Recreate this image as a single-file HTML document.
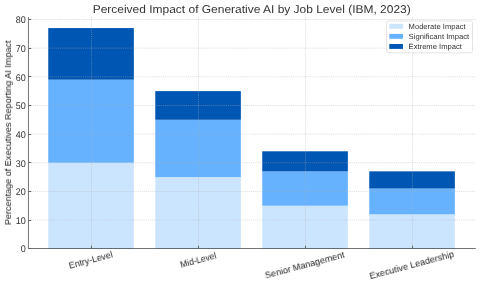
<!DOCTYPE html>
<html><head><meta charset="utf-8"><style>
html,body{margin:0;padding:0;background:#fff;width:480px;height:286px;overflow:hidden}
svg{display:block;font-family:"Liberation Sans", sans-serif}
text{will-change:transform;text-rendering:geometricPrecision}
</style></head><body>
<svg width="480" height="286" viewBox="0 0 480 286">
<rect x="0" y="0" width="480" height="286" fill="#fff"/>
<rect x="48.25" y="162.75" width="85.60" height="85.95" fill="#cce5ff"/>
<rect x="48.25" y="79.66" width="85.60" height="83.09" fill="#66b2ff"/>
<rect x="48.25" y="28.09" width="85.60" height="51.57" fill="#0056b3"/>
<rect x="155.25" y="177.07" width="85.60" height="71.62" fill="#cce5ff"/>
<rect x="155.25" y="119.77" width="85.60" height="57.30" fill="#66b2ff"/>
<rect x="155.25" y="91.12" width="85.60" height="28.65" fill="#0056b3"/>
<rect x="262.25" y="205.72" width="85.60" height="42.97" fill="#cce5ff"/>
<rect x="262.25" y="171.34" width="85.60" height="34.38" fill="#66b2ff"/>
<rect x="262.25" y="151.29" width="85.60" height="20.06" fill="#0056b3"/>
<rect x="369.25" y="214.32" width="85.60" height="34.38" fill="#cce5ff"/>
<rect x="369.25" y="188.53" width="85.60" height="25.79" fill="#66b2ff"/>
<rect x="369.25" y="171.34" width="85.60" height="17.19" fill="#0056b3"/>
<line x1="28.44" y1="220.05" x2="475.8" y2="220.05" stroke="#b0b0b0" stroke-opacity="0.4" stroke-width="1.0" stroke-dasharray="1.15 0.95"/>
<line x1="28.44" y1="191.40" x2="475.8" y2="191.40" stroke="#b0b0b0" stroke-opacity="0.4" stroke-width="1.0" stroke-dasharray="1.15 0.95"/>
<line x1="28.44" y1="162.75" x2="475.8" y2="162.75" stroke="#b0b0b0" stroke-opacity="0.4" stroke-width="1.0" stroke-dasharray="1.15 0.95"/>
<line x1="28.44" y1="134.10" x2="475.8" y2="134.10" stroke="#b0b0b0" stroke-opacity="0.4" stroke-width="1.0" stroke-dasharray="1.15 0.95"/>
<line x1="28.44" y1="105.45" x2="475.8" y2="105.45" stroke="#b0b0b0" stroke-opacity="0.4" stroke-width="1.0" stroke-dasharray="1.15 0.95"/>
<line x1="28.44" y1="76.80" x2="475.8" y2="76.80" stroke="#b0b0b0" stroke-opacity="0.4" stroke-width="1.0" stroke-dasharray="1.15 0.95"/>
<line x1="28.44" y1="48.15" x2="475.8" y2="48.15" stroke="#b0b0b0" stroke-opacity="0.4" stroke-width="1.0" stroke-dasharray="1.15 0.95"/>
<line x1="28.44" y1="19.50" x2="475.8" y2="19.50" stroke="#b0b0b0" stroke-opacity="0.4" stroke-width="1.0" stroke-dasharray="1.15 0.95"/>
<line x1="91.50" y1="17.06" x2="91.50" y2="248.5" stroke="#b0b0b0" stroke-opacity="0.4" stroke-width="1.0" stroke-dasharray="1.15 0.95"/>
<line x1="198.50" y1="17.06" x2="198.50" y2="248.5" stroke="#b0b0b0" stroke-opacity="0.4" stroke-width="1.0" stroke-dasharray="1.15 0.95"/>
<line x1="305.50" y1="17.06" x2="305.50" y2="248.5" stroke="#b0b0b0" stroke-opacity="0.4" stroke-width="1.0" stroke-dasharray="1.15 0.95"/>
<line x1="412.50" y1="17.06" x2="412.50" y2="248.5" stroke="#b0b0b0" stroke-opacity="0.4" stroke-width="1.0" stroke-dasharray="1.15 0.95"/>
<path d="M28.44,17.06 V248.5 H475.8" fill="none" stroke="#000000" stroke-opacity="0.55" stroke-width="1"/>
<line x1="28.44" y1="248.50" x2="31.24" y2="248.50" stroke="#666666" stroke-width="1"/>
<text x="25.8" y="252.45" text-anchor="end" font-size="9.7" fill="#333333" textLength="5.0" lengthAdjust="spacingAndGlyphs">0</text>
<line x1="28.44" y1="220.50" x2="31.24" y2="220.50" stroke="#666666" stroke-width="1"/>
<text x="25.8" y="223.80" text-anchor="end" font-size="9.7" fill="#333333" textLength="10.0" lengthAdjust="spacingAndGlyphs">10</text>
<line x1="28.44" y1="191.50" x2="31.24" y2="191.50" stroke="#666666" stroke-width="1"/>
<text x="25.8" y="195.15" text-anchor="end" font-size="9.7" fill="#333333" textLength="10.0" lengthAdjust="spacingAndGlyphs">20</text>
<line x1="28.44" y1="162.50" x2="31.24" y2="162.50" stroke="#666666" stroke-width="1"/>
<text x="25.8" y="166.50" text-anchor="end" font-size="9.7" fill="#333333" textLength="10.0" lengthAdjust="spacingAndGlyphs">30</text>
<line x1="28.44" y1="134.50" x2="31.24" y2="134.50" stroke="#666666" stroke-width="1"/>
<text x="25.8" y="137.85" text-anchor="end" font-size="9.7" fill="#333333" textLength="10.0" lengthAdjust="spacingAndGlyphs">40</text>
<line x1="28.44" y1="105.50" x2="31.24" y2="105.50" stroke="#666666" stroke-width="1"/>
<text x="25.8" y="109.20" text-anchor="end" font-size="9.7" fill="#333333" textLength="10.0" lengthAdjust="spacingAndGlyphs">50</text>
<line x1="28.44" y1="76.50" x2="31.24" y2="76.50" stroke="#666666" stroke-width="1"/>
<text x="25.8" y="80.55" text-anchor="end" font-size="9.7" fill="#333333" textLength="10.0" lengthAdjust="spacingAndGlyphs">60</text>
<line x1="28.44" y1="48.50" x2="31.24" y2="48.50" stroke="#666666" stroke-width="1"/>
<text x="25.8" y="51.90" text-anchor="end" font-size="9.7" fill="#333333" textLength="10.0" lengthAdjust="spacingAndGlyphs">70</text>
<line x1="28.44" y1="19.50" x2="31.24" y2="19.50" stroke="#666666" stroke-width="1"/>
<text x="25.8" y="23.25" text-anchor="end" font-size="9.7" fill="#333333" textLength="10.0" lengthAdjust="spacingAndGlyphs">80</text>
<line x1="91.50" y1="248.5" x2="91.50" y2="245.70" stroke="#666666" stroke-width="1"/>
<line x1="198.50" y1="248.5" x2="198.50" y2="245.70" stroke="#666666" stroke-width="1"/>
<line x1="305.50" y1="248.5" x2="305.50" y2="245.70" stroke="#666666" stroke-width="1"/>
<line x1="412.50" y1="248.5" x2="412.50" y2="245.70" stroke="#666666" stroke-width="1"/>
<text transform="translate(91.55,263) rotate(-15)" text-anchor="middle" font-size="9.2" fill="#1a1a1a" textLength="45" lengthAdjust="spacingAndGlyphs">Entry-Level</text>
<text transform="translate(199.05,263) rotate(-15)" text-anchor="middle" font-size="9.2" fill="#1a1a1a" textLength="37" lengthAdjust="spacingAndGlyphs">Mid-Level</text>
<text transform="translate(305.55,268) rotate(-15)" text-anchor="middle" font-size="9.2" fill="#1a1a1a" textLength="82" lengthAdjust="spacingAndGlyphs">Senior Management</text>
<text transform="translate(412.55,268) rotate(-15)" text-anchor="middle" font-size="9.2" fill="#1a1a1a" textLength="87" lengthAdjust="spacingAndGlyphs">Executive Leadership</text>
<text x="251.7" y="13.0" text-anchor="middle" font-size="11.3" fill="#333333" textLength="318" lengthAdjust="spacingAndGlyphs">Perceived Impact of Generative AI by Job Level (IBM, 2023)</text>
<text transform="translate(11.0,132.7) rotate(-90)" text-anchor="middle" font-size="8.8" fill="#1a1a1a" textLength="184.5" lengthAdjust="spacingAndGlyphs">Percentage of Executives Reporting AI Impact</text>
<rect x="386.55" y="20.9" width="85.95" height="31.9" rx="2" fill="#fff" fill-opacity="0.85" stroke="#dddddd" stroke-width="0.8"/>
<rect x="389.3" y="23.80" width="13.7" height="4.9" fill="#cce5ff"/>
<text x="408.6" y="28.50" font-size="7.5" fill="#333333" textLength="57" lengthAdjust="spacingAndGlyphs">Moderate Impact</text>
<rect x="389.3" y="33.90" width="13.7" height="4.9" fill="#66b2ff"/>
<text x="408.6" y="38.60" font-size="7.5" fill="#333333" textLength="60.6" lengthAdjust="spacingAndGlyphs">Significant Impact</text>
<rect x="389.3" y="44.00" width="13.7" height="4.9" fill="#0056b3"/>
<text x="408.6" y="48.70" font-size="7.5" fill="#333333" textLength="53.3" lengthAdjust="spacingAndGlyphs">Extreme Impact</text>
</svg>
</body></html>
